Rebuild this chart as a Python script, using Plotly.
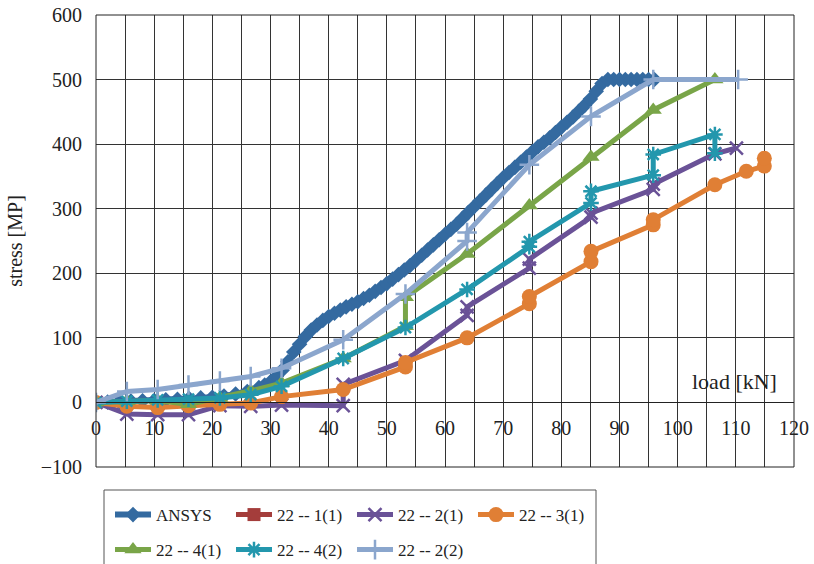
import plotly.graph_objects as go

# ---------------- data ----------------
ansys_x = [0, 2, 4, 6, 8, 10, 12, 14, 16, 18, 20, 22, 24, 26, 28, 29, 30, 31, 32, 33, 34, 35, 36, 37, 38, 39,
           40, 41, 42, 43, 44, 45, 46, 47, 48, 49, 50, 51, 52, 53, 54, 55, 56, 57, 58, 59, 60, 61, 62, 63,
           64, 65, 66, 67, 68, 69, 70, 71, 72, 73, 74, 75, 76, 77, 78, 79, 80, 81, 82, 83, 84, 85, 86, 87,
           88, 89, 90, 91, 92, 93, 94, 95, 96]
ansys_y = [0, 0.5, 1, 2, 2.5, 3, 4, 5, 6, 7, 8, 10, 13, 17, 23, 27, 32, 40, 50, 63, 78, 90, 102, 112, 120, 127,
           133, 138, 143, 148, 152, 156, 161, 166, 172, 178, 184, 191, 198, 205, 212, 220, 228, 236, 244, 252, 260, 268, 276, 285,
           294, 303, 312, 321, 330, 339, 348, 356, 364, 372, 380, 388, 396, 403, 410, 418, 426, 434, 442, 451, 460, 470, 482, 494,
           500, 500, 500, 500, 500, 500, 500, 500, 500]

s21_x = []
s21_y = []

s22_x = [0, 5.3, 10.6, 15.9, 21.3, 26.6, 31.9, 42.5, 42.5, 53.2, 63.8, 63.8, 74.5, 74.5, 85.1, 85.1, 95.8, 95.8, 106.4, 110.1]
s22_y = [0, -18, -19, -19, -5, -6, -4, -5, 28, 65, 135, 148, 208, 222, 287, 293, 330, 338, 385, 394]

s23_x = [0, 5.3, 10.6, 15.9, 21.3, 26.6, 31.9, 42.5, 53.2, 53.2, 63.8, 74.5, 74.5, 85.1, 85.1, 95.8, 95.8, 106.4, 111.8, 114.9, 114.9]
s23_y = [0, -6, -8, -5, -3, -1, 9, 20, 55, 62, 100, 153, 164, 218, 234, 275, 283, 337, 358, 366, 378]

s24_x = [0, 5.3, 10.6, 15.9, 21.3, 26.6, 31.9, 42.5, 53.2, 53.2, 63.8, 74.5, 85.1, 95.8, 106.4]
s24_y = [0, 2, 3, -3, 7, 18, 30, 68, 118, 163, 230, 305, 380, 453, 500]

s242_x = [0, 5.3, 10.6, 15.9, 21.3, 26.6, 31.9, 42.5, 53.2, 63.8, 74.5, 74.5, 85.1, 85.1, 95.8, 95.8, 106.4, 106.4]
s242_y = [0, 2, 4, 5, 7, 12, 25, 68, 116, 175, 241, 249, 309, 327, 352, 384, 415, 386]

s222_x = [0, 5.3, 10.6, 15.9, 21.3, 26.6, 31.9, 42.5, 53.2, 63.8, 63.8, 74.5, 85.1, 95.8, 110.4]
s222_y = [0, 17, 20, 27, 33, 40, 53, 97, 168, 250, 263, 368, 443, 500, 500]

x_ticks = [0, 10, 20, 30, 40, 50, 60, 70, 80, 90, 100, 110, 120]
y_ticks = [-100, 0, 100, 200, 300, 400, 500, 600]

FONT = "Liberation Serif"
TXT = "#222"

fig = go.Figure()

def add(x, y, name, color, symbol, msize, legend, mline=None, width=5):
    marker = dict(symbol=symbol, size=msize, color=color)
    if mline:
        marker["line"] = dict(color=color, width=mline)
    fig.add_trace(go.Scatter(x=x if x else [None], y=y if y else [None], name=name,
                             mode="lines+markers", line=dict(color=color, width=width),
                             marker=marker, legend=legend))

add(ansys_x, ansys_y, "ANSYS", "#346AA0", "diamond", 12, "legend", width=6)
add(s21_x, s21_y, "22 -- 1(1)", "#A43D3B", "square", 13, "legend")
add(s22_x, s22_y, "22 -- 2(1)", "#6A5297", "x-thin", 13, "legend", mline=2.5)
add(s23_x, s23_y, "22 -- 3(1)", "#E07F35", "circle", 15, "legend")
add(s24_x, s24_y, "22 -- 4(1)", "#79A548", "triangle-up", 15, "legend2")
add(s242_x, s242_y, "22 -- 4(2)", "#2397AD", "asterisk-open", 13, "legend2", mline=2.5)
add(s222_x, s222_y, "22 -- 2(2)", "#8BA6CD", "cross-thin", 14, "legend2", mline=2.5)

W, H = 814, 564
PL, PR, PT, PB = 96, 794, 15.3, 467   # plot area in page pixels
L, R, T, B = PL, W - PR, PT, H - PB
pw, ph = W - L - R, H - T - B

def px2paper_x(px):
    return (px - L) / pw

def px2paper_y(py):
    return (H - B - py) / ph

grid = "#333333"
fig.update_layout(
    width=W, height=H,
    margin=dict(l=L, r=R, t=T, b=B, autoexpand=False),
    paper_bgcolor="white", plot_bgcolor="white",
    font=dict(family=FONT, size=17, color=TXT),
    xaxis=dict(range=[0, 120], tickvals=x_ticks, ticktext=[str(v) for v in x_ticks],
               showgrid=True, gridcolor=grid, gridwidth=1,
               minor=dict(dtick=5, showgrid=True, gridcolor=grid, gridwidth=1),
               anchor="free", position=100 / 700, showline=True, linecolor=TXT, linewidth=1,
               zeroline=False, ticks="", ticklabelstandoff=8, ticklabeloverflow="allow",
               tickfont=dict(family=FONT, size=20, color=TXT)),
    yaxis=dict(range=[-100, 600], tickvals=y_ticks, showgrid=True, gridcolor=grid, gridwidth=1,
               zeroline=True, zerolinecolor=TXT, zerolinewidth=1, ticks="",
               ticklabelstandoff=13, ticklabeloverflow="allow",
               title=dict(text="stress [MP]", font=dict(family=FONT, size=20, color=TXT), standoff=12),
               tickfont=dict(family=FONT, size=20, color=TXT)),
    legend=dict(orientation="h", x=px2paper_x(110), y=px2paper_y(515), xanchor="left", yanchor="middle",
                entrywidth=70, entrywidthmode="pixels", font=dict(family=FONT, size=17, color=TXT),
                bgcolor="rgba(0,0,0,0)", borderwidth=0, itemwidth=36),
    legend2=dict(orientation="h", x=px2paper_x(110), y=px2paper_y(550), xanchor="left", yanchor="middle",
                 entrywidth=70, entrywidthmode="pixels", font=dict(family=FONT, size=17, color=TXT),
                 bgcolor="rgba(0,0,0,0)", borderwidth=0, itemwidth=36),
    shapes=[
        dict(type="rect", xref="paper", yref="paper", x0=0, x1=1, y0=0, y1=1,
             line=dict(color=TXT, width=1), fillcolor="rgba(0,0,0,0)", layer="above"),
        dict(type="rect", xref="paper", yref="paper", x0=px2paper_x(104), x1=px2paper_x(596),
             y0=px2paper_y(590), y1=px2paper_y(490), line=dict(color="#555", width=1),
             fillcolor="rgba(0,0,0,0)"),
    ],
    annotations=[dict(text="load [kN]", x=109.8, y=32, xref="x", yref="y", showarrow=False,
                      font=dict(family=FONT, size=22, color=TXT))],
    showlegend=True,
)

fig.write_html("out.html", config={"displayModeBar": False},
               post_script="document.body.style.margin='0px';document.body.style.padding='0px';")
